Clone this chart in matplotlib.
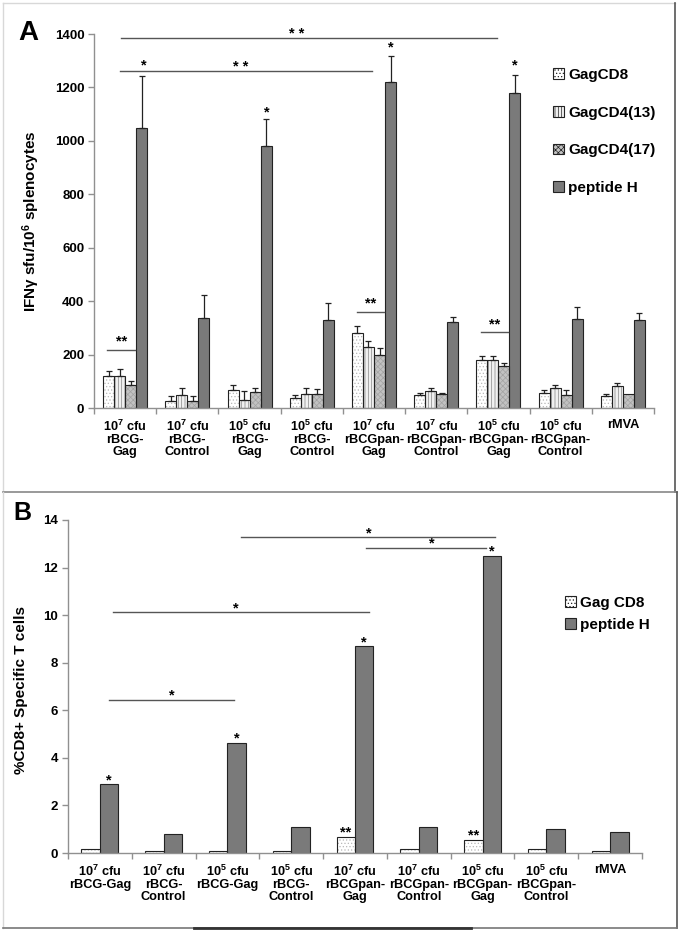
import matplotlib
matplotlib.use("Agg")
import matplotlib.pyplot as plt
from matplotlib.patches import Patch
from matplotlib.lines import Line2D
from matplotlib import font_manager
import numpy as np

plt.rcParams['font.family'] = ['Liberation Sans', 'DejaVu Sans']
plt.rcParams['font.weight'] = 'bold'
plt.rcParams['mathtext.fontset'] = 'custom'
plt.rcParams['mathtext.rm'] = 'Liberation Sans:bold'
plt.rcParams['mathtext.it'] = 'Liberation Sans:bold'
plt.rcParams['mathtext.bf'] = 'Liberation Sans:bold'
plt.rcParams['hatch.linewidth'] = 0.5

installed = {f.name for f in font_manager.fontManager.ttflist}
if 'Liberation Sans Narrow' in installed:
    NARROW, NSIZE = 'Liberation Sans Narrow', 10.5
elif 'DejaVu Sans Condensed' in installed:
    NARROW, NSIZE = 'DejaVu Sans Condensed', 10.0
else:
    NARROW, NSIZE = 'Liberation Sans', 9.2
if NARROW != 'Liberation Sans':
    plt.rcParams['mathtext.rm'] = NARROW + ':bold'
    plt.rcParams['mathtext.it'] = NARROW + ':bold'
    plt.rcParams['mathtext.bf'] = NARROW + ':bold'

# ---------------- data ----------------
labels_a = ["10$^7$ cfu\nrBCG-\nGag", "10$^7$ cfu\nrBCG-\nControl",
            "10$^5$ cfu\nrBCG-\nGag", "10$^5$ cfu\nrBCG-\nControl",
            "10$^7$ cfu\nrBCGpan-\nGag", "10$^7$ cfu\nrBCGpan-\nControl",
            "10$^5$ cfu\nrBCGpan-\nGag", "10$^5$ cfu\nrBCGpan-\nControl",
            "rMVA"]
labels_b = ["10$^7$ cfu\nrBCG-Gag", "10$^7$ cfu\nrBCG-\nControl",
            "10$^5$ cfu\nrBCG-Gag", "10$^5$ cfu\nrBCG-\nControl",
            "10$^7$ cfu\nrBCGpan-\nGag", "10$^7$ cfu\nrBCGpan-\nControl",
            "10$^5$ cfu\nrBCGpan-\nGag", "10$^5$ cfu\nrBCGpan-\nControl",
            "rMVA"]

series_a = ["GagCD8", "GagCD4(13)", "GagCD4(17)", "peptide H"]
gagcd8 = [120, 27, 66, 39, 280, 49, 180, 56, 44]
gagcd8_err = [19, 18, 19, 11, 26, 7, 14, 10, 10]
gagcd4_13 = [120, 49, 31, 54, 227, 65, 180, 75, 82]
gagcd4_13_err = [27, 26, 31, 21, 23, 8, 14, 11, 11]
gagcd4_17 = [85, 25, 60, 52, 198, 52, 158, 50, 53]
gagcd4_17_err = [17, 20, 15, 19, 25, 5, 12, 16, 0]
peptide_h = [1050, 336, 979, 329, 1221, 322, 1180, 332, 330]
peptide_h_err = [192, 86, 102, 63, 98, 19, 67, 45, 25]

series_b = ["Gag CD8", "peptide H"]
b_gagcd8 = [0.15, 0.08, 0.08, 0.08, 0.67, 0.17, 0.56, 0.17, 0.08]
b_peptide_h = [2.88, 0.79, 4.62, 1.10, 8.69, 1.10, 12.49, 1.00, 0.89]

# ---------------- figure ----------------
W, H = 681, 933
fig = plt.figure(figsize=(W / 100, H / 100), dpi=100)

def fx(px):
    return px / W

def fy(py):
    return 1 - py / H

styles = [
    dict(face='white', hatch='.....', hcol='#b8b8b8'),
    dict(face='#f0f0f0', hatch='|||||', hcol='#858585'),
    dict(face='#c2c2c2', hatch='xxxxxx', hcol='#a2a2a2'),
    dict(face='#7a7a7a', hatch=None, hcol=None),
]

def draw_bars(ax, x, vals, width, st, zorder=2):
    if st['hatch']:
        ax.bar(x, vals, width, color=st['face'], edgecolor=st['hcol'],
               hatch=st['hatch'], linewidth=0, zorder=zorder)
        ax.bar(x, vals, width, color='none', edgecolor='#222222',
               linewidth=0.8, zorder=zorder + 0.1)
    else:
        ax.bar(x, vals, width, color=st['face'], edgecolor='#222222',
               linewidth=0.8, zorder=zorder)

def style_axes(ax, ymax, yticks, ngroups):
    for s in ['top', 'right']:
        ax.spines[s].set_visible(False)
    for s in ['left', 'bottom']:
        ax.spines[s].set_color('#909090')
        ax.spines[s].set_linewidth(1.0)
    ax.set_xlim(-0.5, ngroups - 0.5)
    ax.set_ylim(0, ymax)
    ax.set_yticks(yticks)
    ax.tick_params(axis='y', direction='out', length=4, width=1,
                   color='#909090', labelsize=9.5, pad=3)
    ax.set_xticks(np.arange(ngroups))
    ax.tick_params(axis='x', which='major', length=0, pad=8)
    ax.set_xticks(np.arange(ngroups + 1) - 0.5, minor=True)
    ax.tick_params(axis='x', which='minor', direction='out', length=4,
                   width=1, color='#909090')
    for t in ax.get_yticklabels():
        t.set_fontweight('bold')

# ---------------- Panel A ----------------
axA = fig.add_axes([fx(94), fy(408), fx(654 - 94), (408 - 34) / H])
x = np.arange(len(labels_a))
w = 0.177
offs = [-1.5 * w, -0.5 * w, 0.5 * w, 1.5 * w]
valsA = [gagcd8, gagcd4_13, gagcd4_17, peptide_h]
errsA = [gagcd8_err, gagcd4_13_err, gagcd4_17_err, peptide_h_err]
for i in range(4):
    draw_bars(axA, x + offs[i], valsA[i], w, styles[i])
    e = np.array(errsA[i])
    m = e > 0
    axA.errorbar((x + offs[i])[m], np.array(valsA[i])[m],
                 yerr=[np.zeros(m.sum()), e[m]], fmt='none', ecolor='#222222',
                 elinewidth=0.9, capsize=2.2, capthick=0.9, zorder=3)
style_axes(axA, 1400, np.arange(0, 1401, 200), len(labels_a))
axA.set_xticklabels(labels_a, fontsize=NSIZE, family=NARROW,
                    fontweight='bold', linespacing=1.0)
axA.set_ylabel("IFNγ sfu/10$^6$ splenocytes", fontsize=11, fontweight='bold')
axA.yaxis.set_label_coords(-0.093, 0.5)

lc = '#555555'
def sig_line(ax, x0, x1, y):
    ax.plot([x0, x1], [y, y], color=lc, lw=1.0, clip_on=False, zorder=4)

def star(ax, xx, y, s='*', fs=10.5):
    ax.text(xx, y, s, ha='center', va='center', fontsize=fs,
            fontweight='bold', clip_on=False)

sig_line(axA, -0.07, 5.97, 1385)
star(axA, 2.76, 1400, '* *')
sig_line(axA, -0.09, 3.97, 1261)
star(axA, 0.3, 1282)
star(axA, 1.85, 1276, '* *')
sig_line(axA, -0.29, 0.16, 218)
star(axA, -0.06, 250, '**')
sig_line(axA, 3.73, 4.16, 361)
star(axA, 3.94, 393, '**')
sig_line(axA, 5.72, 6.16, 286)
star(axA, 5.94, 312, '**')
star(axA, 2.27, 1108)
star(axA, 4.27, 1350)
star(axA, 6.27, 1282)

handlesA = [Patch(facecolor=s['face'], edgecolor='#222222',
                  hatch=s['hatch'], linewidth=0.8) for s in styles]
fig.legend(handlesA, series_a, loc='upper left',
           bbox_to_anchor=(fx(553), fy(68)), frameon=False,
           labelspacing=1.55, handlelength=0.7, handleheight=0.7,
           handletextpad=0.3, borderpad=0, borderaxespad=0,
           prop=dict(weight='bold', size=11))

fig.text(fx(28), fy(33), "A", fontsize=20, fontweight='bold',
         ha='center', va='center')

# ---------------- Panel B ----------------
axB = fig.add_axes([fx(68), fy(853), fx(642 - 68), (853 - 520) / H])
wb = 0.29
xb = np.arange(len(labels_b))
draw_bars(axB, xb - wb / 2, b_gagcd8, wb, styles[0])
draw_bars(axB, xb + wb / 2, b_peptide_h, wb, styles[3])
style_axes(axB, 14, np.arange(0, 15, 2), len(labels_b))
axB.set_xticklabels(labels_b, fontsize=NSIZE, family=NARROW,
                    fontweight='bold', linespacing=1.0)
axB.set_ylabel("%CD8+ Specific T cells", fontsize=11, fontweight='bold')
axB.yaxis.set_label_coords(-0.07, 0.49)

star(axB, 0.145, 3.05)
star(axB, 2.145, 4.8)
star(axB, 4.145, 8.87)
star(axB, 6.145, 12.68)
star(axB, 3.855, 0.85, '**')
star(axB, 5.855, 0.74, '**')
sig_line(axB, 0.14, 2.1, 6.45)
star(axB, 1.12, 6.62)
sig_line(axB, 0.2, 4.22, 10.13)
star(axB, 2.13, 10.3)
sig_line(axB, 2.22, 6.2, 13.27)
star(axB, 4.22, 13.44)
sig_line(axB, 4.17, 6.05, 12.83)
star(axB, 5.2, 13.0)

handlesB = [Patch(facecolor=styles[0]['face'], edgecolor='#222222',
                  hatch=styles[0]['hatch'], linewidth=0.8),
            Patch(facecolor=styles[3]['face'], edgecolor='#222222',
                  linewidth=0.8)]
fig.legend(handlesB, series_b, loc='upper left',
           bbox_to_anchor=(fx(565), fy(596)), frameon=False,
           labelspacing=0.5, handlelength=0.7, handleheight=0.7,
           handletextpad=0.3, borderpad=0, borderaxespad=0,
           prop=dict(weight='bold', size=11))

fig.text(fx(22), fy(513), "B", fontsize=18, fontweight='bold',
         ha='center', va='center')

# ---------------- panel frames ----------------
def fline(x0, y0, x1, y1, c, lw):
    fig.add_artist(Line2D([fx(x0), fx(x1)], [fy(y0), fy(y1)], color=c,
                          lw=lw, transform=fig.transFigure))

fline(3, 3, 675, 3, '#d8d8d8', 1)
fline(3, 3, 3, 492, '#d8d8d8', 1)
fline(675, 3, 675, 492, '#555555', 1.2)
fline(3, 492, 677, 492, '#888888', 1.2)
fline(3, 492, 3, 928, '#d8d8d8', 1)
fline(677, 492, 677, 928, '#555555', 1.2)
fline(3, 928, 677, 928, '#777777', 1.2)
fline(194, 928, 471, 928, '#333333', 2)

fig.savefig("out.png", dpi=100)
